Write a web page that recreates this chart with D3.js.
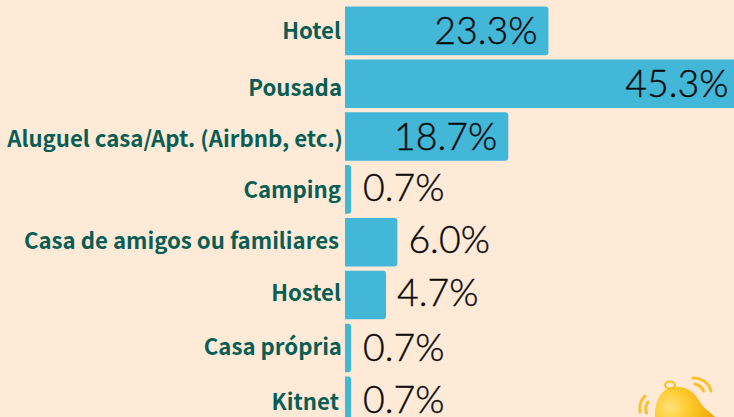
<!DOCTYPE html>
<html><head><meta charset="utf-8">
<script src="https://cdn.jsdelivr.net/npm/d3@7/dist/d3.min.js"></script>
<style>html,body{margin:0;padding:0;background:#ffead8;overflow:hidden}</style>
</head><body><div id="c"></div>
<script>
const categories=["Hotel","Pousada","Aluguel casa/Apt. (Airbnb, etc.)","Camping","Casa de amigos ou familiares","Hostel","Casa própria","Kitnet"];
const values=[23.3,45.3,18.7,0.7,6.0,4.7,0.7,0.7];
const labelDx=[-4,-3,-2,-4,-6,-4,-3,-6];
const labelDy=[1,5,3,1,-1,-2,0,2];
const valueDx=[-1,-2,-1,1,0,0,1,1];
const valueDy=[0,0,0,-1,-2,-2,0,-1];
const W=734,H=417;
const svg=d3.select("#c").append("svg").attr("width",W).attr("height",H).style("display","block");
svg.append("rect").attr("width",W).attr("height",H).attr("fill","#ffead8");
const x=d3.scaleLinear().domain([0,45.3]).range([345,740.5]);
const y=d3.scaleBand().domain(categories).range([6.6,425]).paddingInner(0.0815).paddingOuter(0);
const blue="#42b7d8";
const g=svg.selectAll("g.row").data(categories).join("g").attr("class","row");
g.append("path").attr("fill",blue).attr("d",(c,i)=>{
  const x0=x(0),x1=x(values[i]),t=y(c),b=t+y.bandwidth(),r=Math.min(3,x1-x0);
  return `M${x0},${t}H${x1-r}Q${x1},${t} ${x1},${t+r}V${b-r}Q${x1},${b} ${x1-r},${b}H${x0}Z`;
});
g.append("text").text(c=>c)
 .attr("x",(c,i)=>x(0)+labelDx[i]).attr("y",(c,i)=>y(c)+y.bandwidth()/2+7.5+labelDy[i])
 .attr("text-anchor","end").attr("fill","#075e54")
 .attr("font-family","'Noto Sans CJK SC'").attr("font-weight",700).attr("font-size",22.2);
g.append("text").text((c,i)=>d3.format(".1f")(values[i])+"%")
 .attr("x",(c,i)=>(values[i]>15?x(values[i])-10:x(values[i])+11)+valueDx[i])
 .attr("text-anchor",(c,i)=>values[i]>15?"end":"start")
 .attr("y",(c,i)=>y(c)+y.bandwidth()/2+13+valueDy[i])
 .attr("fill","#0b0b0b").attr("stroke","#0b0b0b").attr("stroke-width",0.4)
 .attr("font-family","Lato").attr("font-weight",300).attr("font-size",37.5);

// decorative bell, bottom right corner
const defs=svg.append("defs");
const rg=defs.append("radialGradient").attr("id","bell").attr("gradientUnits","userSpaceOnUse")
 .attr("cx",670).attr("cy",407).attr("r",42);
rg.append("stop").attr("offset",0).attr("stop-color","#ffe27a");
rg.append("stop").attr("offset",.45).attr("stop-color","#fdca2c");
rg.append("stop").attr("offset",1).attr("stop-color","#f2ab0d");
defs.append("filter").attr("id","soft").append("feGaussianBlur").attr("stdDeviation",.6);
const bell=svg.append("g").attr("filter","url(#soft)");
bell.append("path").attr("fill","url(#bell)")
 .attr("d","M655,420C654,402 660,390 672,387C686,385 695,392 700,402C704,409 711,412 718,420Z");
bell.append("ellipse").attr("cx",670).attr("cy",385).attr("rx",5).attr("ry",3.5).attr("fill","none").attr("stroke","#f9bd1e").attr("stroke-width",2);
[["M693,378C702,378 709,383 711,391",3],["M695,384C699,385 702,387 703.5,391",3],
 ["M645,396C641,400 639,406 640,412",3],["M648,402C646,405 645,409 646.5,413",3]].forEach(d=>{
  bell.append("path").attr("d",d[0]).attr("fill","none").attr("stroke","#fbc02d").attr("stroke-width",d[1]).attr("stroke-linecap","round");
});
</script></body></html>
